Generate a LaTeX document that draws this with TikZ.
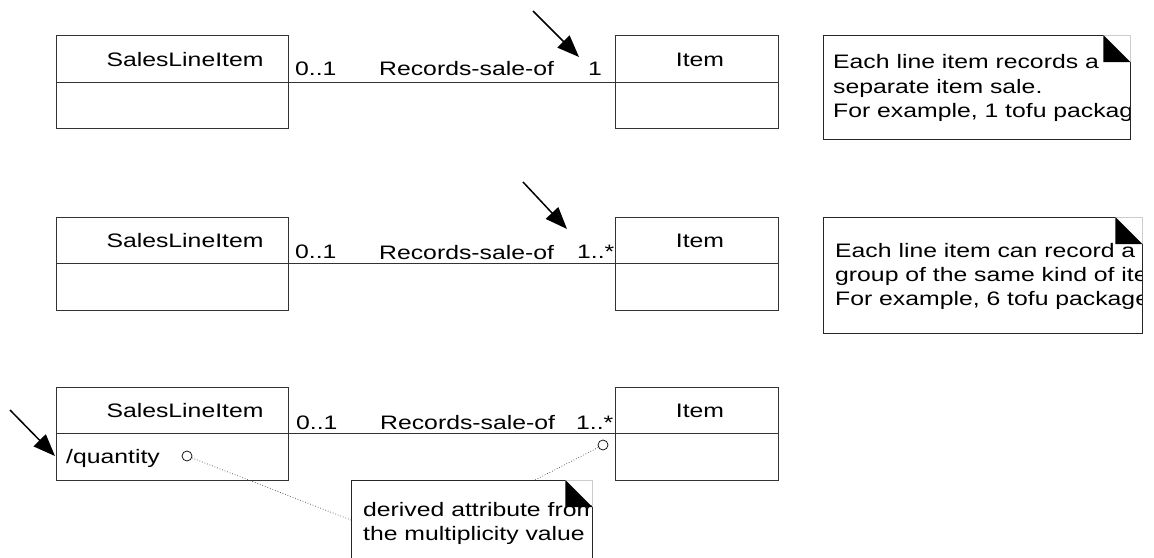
\documentclass[tikz,border=0pt]{standalone}
\usepackage{fontspec}
\setmainfont{Liberation Sans}
\usepackage{graphicx}
\usetikzlibrary{arrows.meta}
\newcommand{\wt}[1]{\scalebox{1.27}[1]{#1}}
\tikzset{
  txt/.style={inner sep=0pt, anchor=base west, font=\fontsize{19.5}{23}\selectfont},
  ttl/.style={inner sep=0pt, anchor=base, font=\fontsize{19.5}{23}\selectfont},
  comp/.style={draw=black!80, line width=0.9pt, inner sep=0pt, anchor=north west},
  slic/.style={comp, minimum width=232pt},
  itemc/.style={comp, minimum width=163pt},
  assoc/.style={draw=black!80, line width=1.1pt},
  pointer/.style={-{Triangle[length=22pt,width=17pt]}, line width=1.5pt, black},
  noteb/.style={inner sep=0pt, anchor=north west},
  noteline/.style={draw=black!85, line width=0.9pt},
  earline/.style={draw=black!20, line width=0.8pt},
  pin/.style={circle, draw=black, fill=white, line width=0.7pt, minimum size=10pt, inner sep=0pt},
  link/.style={dotted, line width=0.7pt, black!75},
}
\newcommand{\dogear}[2]{%
  \draw[noteline] ([xshift=-#2]#1.north east) -- (#1.north west) -- (#1.south west) -- (#1.south east) -- ([yshift=-#2]#1.north east);
  \draw[earline] ([xshift=-#2]#1.north east) -- (#1.north east) -- ([yshift=-#2]#1.north east);
  \fill[black] ([xshift=-#2]#1.north east) -- ([xshift=-#2,yshift=-#2]#1.north east) -- ([yshift=-#2]#1.north east) -- cycle;
}
\begin{document}
\begin{tikzpicture}[x=1pt,y=-1pt]
\useasboundingbox[fill=white] (0,0) rectangle (1154,557);

% ---------- Row 1 ----------
\node[slic, minimum height=47pt] (s1t) at (56,35) {};
\node[slic, minimum height=46pt] (s1b) at (56,82) {};
\node[itemc, minimum height=47pt] (i1t) at (615,35) {};
\node[itemc, minimum height=46pt] (i1b) at (615,82) {};
\node[ttl] (s1n) at (185,66) {\wt{SalesLineItem}};
\node[ttl] (i1n) at (700,66) {\wt{Item}};
\draw[assoc] (s1t.south east) -- (i1t.south west);
\node[txt] (m1a) at (295,75) {\wt{0..1}};
\node[txt] (r1) at (379,75) {\wt{Records-sale-of}};
\node[txt] (m1b) at (588,75) {\wt{1}};
\coordinate (a1s) at (533,11);
\coordinate (a1e) at (579,57);
\draw[pointer] (a1s) -- (a1e);

\node[noteb, minimum width=307pt, minimum height=104pt] (n1) at (823,35) {};
\begin{scope}
  \clip (n1.north west) rectangle (n1.south east);
  \node[txt] (n1l1) at (833,68) {\wt{Each line item records a}};
  \node[txt] (n1l2) at (833,93) {\wt{separate item sale.}};
  \node[txt] (n1l3) at (833,117) {\wt{For example, 1 tofu package}};
\end{scope}
\dogear{n1}{27pt}

% ---------- Row 2 ----------
\node[slic, minimum height=46pt] (s2t) at (56,217) {};
\node[slic, minimum height=47pt] (s2b) at (56,263) {};
\node[itemc, minimum height=46pt] (i2t) at (615,217) {};
\node[itemc, minimum height=47pt] (i2b) at (615,263) {};
\node[ttl] (s2n) at (185,247) {\wt{SalesLineItem}};
\node[ttl] (i2n) at (700,247) {\wt{Item}};
\draw[assoc] (s2t.south east) -- (i2t.south west);
\node[txt] (m2a) at (295,258) {\wt{0..1}};
\node[txt] (r2) at (379,259) {\wt{Records-sale-of}};
\node[txt] (m2b) at (577,258) {\wt{1..*}};
\coordinate (a2s) at (523,182);
\coordinate (a2e) at (567,229);
\draw[pointer] (a2s) -- (a2e);

\node[noteb, minimum width=319pt, minimum height=116pt] (n2) at (823,217) {};
\begin{scope}
  \clip (n2.north west) rectangle (n2.south east);
  \node[txt] (n2l1) at (835,257) {\wt{Each line item can record a}};
  \node[txt] (n2l2) at (835,281) {\wt{group of the same kind of ite}};
  \node[txt] (n2l3) at (835,305) {\wt{For example, 6 tofu package}};
\end{scope}
\dogear{n2}{27pt}

% ---------- Row 3 ----------
\node[slic, minimum height=46pt] (s3t) at (56,387) {};
\node[slic, minimum height=47pt] (s3b) at (56,433) {};
\node[itemc, minimum height=46pt] (i3t) at (615,387) {};
\node[itemc, minimum height=47pt] (i3b) at (615,433) {};
\node[ttl] (s3n) at (185,417) {\wt{SalesLineItem}};
\node[ttl] (i3n) at (700,417) {\wt{Item}};
\draw[assoc] (s3t.south east) -- (i3t.south west);
\node[txt] (m3a) at (296,429) {\wt{0..1}};
\node[txt] (r3) at (380,429) {\wt{Records-sale-of}};
\node[txt] (m3b) at (576,429) {\wt{1..*}};
\node[txt] (attr) at (66,463) {\wt{/quantity}};
\coordinate (a3s) at (10,410);
\coordinate (a3e) at (55,456);
\draw[pointer] (a3s) -- (a3e);

\node[pin] (c1) at (187,456) {};
\node[pin] (c2) at (603,445) {};

\node[noteb, minimum width=241pt, minimum height=84pt] (n3) at (351,480) {};
\begin{scope}
  \clip (n3.north west) rectangle (n3.south east);
  \node[txt] (n3l1) at (363,516) {\wt{derived attribute from}};
  \node[txt] (n3l2) at (363,540) {\wt{the multiplicity value}};
\end{scope}
\dogear{n3}{27pt}
\coordinate (n3in) at (351,520);
\coordinate (n3top) at (535,480);
\draw[link] (c1) -- (n3in);
\draw[link] (c2) -- (n3top);
\end{tikzpicture}
\end{document}
